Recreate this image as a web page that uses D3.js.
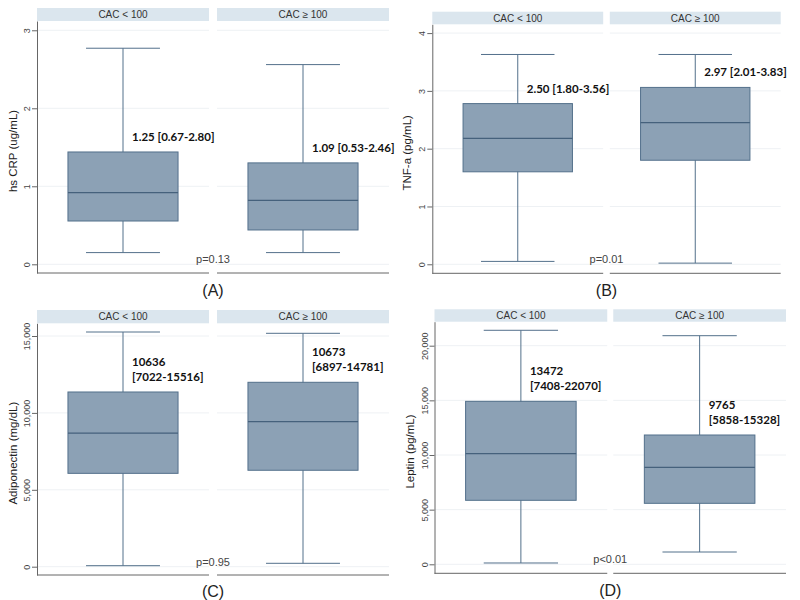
<!DOCTYPE html>
<html>
<head>
<meta charset="utf-8">
<script src="https://cdn.jsdelivr.net/npm/d3@7"></script>
<style>
  html, body { margin: 0; padding: 0; background: #ffffff; }
  svg { display: block; }
</style>
</head>
<body>
<svg id="chart" width="800" height="600"></svg>
<script>
// ---------------- DATA ----------------
const panelLabels = ["(A)", "(B)", "(C)", "(D)"];
const groups = ["CAC < 100", "CAC \u2265 100"];
const yTitles = ["hs CRP (ug/mL)", "TNF-a (pg/mL)", "Adiponectin (mg/dL)", "Leptin (pg/mL)"];
const pValues = ["p=0.13", "p=0.01", "p=0.95", "p<0.01"];

const ticksA = [0, 1, 2, 3];
const ticksB = [0, 1, 2, 3, 4];
const ticksC = [0, 5000, 10000, 15000];
const ticksD = [0, 5000, 10000, 15000, 20000];

// box statistics per group: [CAC<100, CAC>=100]
const crpLow = [0.15, 0.15], crpQ1 = [0.555, 0.44], crpMed = [0.92, 0.82], crpQ3 = [1.44, 1.30], crpHigh = [2.77, 2.56];
const tnfLow = [0.05, 0.02], tnfQ1 = [1.60, 1.80], tnfMed = [2.18, 2.45], tnfQ3 = [2.78, 3.06], tnfHigh = [3.63, 3.63];
const adiLow = [65, 220], adiQ1 = [6070, 6270], adiMed = [8690, 9430], adiQ3 = [11360, 11990], adiHigh = [15260, 15175];
const lepLow = [120, 1125], lepQ1 = [5855, 5580], lepMed = [10120, 8875], lepQ3 = [14910, 11830], lepHigh = [21410, 20915];

const annA = [["1.25 [0.67-2.80]"], ["1.09 [0.53-2.46]"]];
const annB = [["2.50 [1.80-3.56]"], ["2.97 [2.01-3.83]"]];
const annC = [["10636", "[7022-15516]"], ["10673", "[6897-14781]"]];
const annD = [["13472", "[7408-22070]"], ["9765", "[5858-15328]"]];

// ---------------- LAYOUT (code only) ----------------
const panels = [
  { ticks: ticksA, low: crpLow, q1: crpQ1, med: crpMed, q3: crpQ3, high: crpHigh, ann: annA,
    x0: 37, x1: 389, gap: 8, stripTop: 8, top: 21, bottom: 273, domain: [-0.1115, 3.119], labelY: 296, titleX: 17 },
  { ticks: ticksB, low: tnfLow, q1: tnfQ1, med: tnfMed, q3: tnfQ3, high: tnfHigh, ann: annB,
    x0: 432.3, x1: 780.7, gap: 6.6, stripTop: 11.7, top: 24.3, bottom: 273.3, domain: [-0.156, 4.152], labelY: 296, titleX: 411 },
  { ticks: ticksC, low: adiLow, q1: adiQ1, med: adiMed, q3: adiQ3, high: adiHigh, ann: annC,
    x0: 37, x1: 389, gap: 8, stripTop: 310, top: 323.3, bottom: 575, domain: [-540, 15826], labelY: 597, titleX: 17 },
  { ticks: ticksD, low: lepLow, q1: lepQ1, med: lepMed, q3: lepQ3, high: lepHigh, ann: annD,
    x0: 434.5, x1: 786, gap: 6, stripTop: 309.3, top: 321.7, bottom: 573.3, domain: [-823, 22196], labelY: 596, titleX: 414 }
];

const BOX_FILL = "#8ca1b5";
const BOX_STROKE = "#53708b";
const STRIP_FILL = "#dbe6ee";
const AXIS_COLOR = "#666";
const GRID_COLOR = "#eef1f4";

const svg = d3.select("#chart");

panels.forEach((p, i) => {
  const g = svg.append("g");
  const W = p.x1 - p.x0;
  const step = (W + p.gap) / 2;
  const x = d3.scaleBand().domain(groups).range([p.x0, p.x1])
    .paddingInner(p.gap / step).paddingOuter(0);
  const y = d3.scaleLinear().domain(p.domain).range([p.bottom, p.top]);
  const bw = x.bandwidth();

  // strips
  groups.forEach(grp => {
    g.append("rect")
      .attr("x", x(grp)).attr("y", p.stripTop)
      .attr("width", bw).attr("height", p.top - p.stripTop)
      .attr("fill", STRIP_FILL);
    g.append("text")
      .attr("x", x(grp) + bw / 2).attr("y", (p.stripTop + p.top) / 2)
      .attr("dy", "0.35em").attr("text-anchor", "middle")
      .attr("font-family", "Liberation Sans, Arial, sans-serif")
      .attr("font-size", 10).attr("fill", "#333")
      .text(grp);
    // grid lines
    g.selectAll(null).data(p.ticks).enter().append("line")
      .attr("x1", x(grp)).attr("x2", x(grp) + bw)
      .attr("y1", d => y(d)).attr("y2", d => y(d))
      .attr("stroke", GRID_COLOR).attr("stroke-width", 1);
    // bottom axis line
    g.append("line")
      .attr("x1", x(grp)).attr("x2", x(grp) + bw)
      .attr("y1", p.bottom).attr("y2", p.bottom)
      .attr("stroke", AXIS_COLOR).attr("stroke-width", 1);
  });

  // y axis
  const yAxis = d3.axisLeft(y).tickValues(p.ticks).tickSize(5).tickSizeOuter(0)
    .tickFormat(d3.format(","));
  const ag = g.append("g").attr("transform", `translate(${p.x0},0)`).call(yAxis);
  ag.select(".domain").attr("stroke", AXIS_COLOR);
  ag.selectAll(".tick line").attr("stroke", AXIS_COLOR);
  ag.selectAll(".tick text")
    .attr("x", 0).attr("y", 0).attr("dy", 0)
    .attr("transform", "translate(-7,0) rotate(-90)")
    .attr("text-anchor", "middle")
    .attr("font-family", "Liberation Sans, Arial, sans-serif")
    .attr("font-size", 9).attr("fill", "#444");

  // y title
  g.append("text")
    .attr("transform", `translate(${p.titleX},${(p.top + p.bottom) / 2 + 4}) rotate(-90)`)
    .attr("text-anchor", "middle")
    .attr("font-family", "Liberation Sans, Arial, sans-serif")
    .attr("font-size", 11.5).attr("fill", "#222")
    .text(yTitles[i]);

  // boxes
  groups.forEach((grp, j) => {
    const cx = x(grp) + bw / 2;
    const boxW = bw * 0.64;
    const capW = bw * 0.43;
    // whiskers
    g.append("line").attr("x1", cx).attr("x2", cx)
      .attr("y1", y(p.low[j])).attr("y2", y(p.high[j]))
      .attr("stroke", BOX_STROKE).attr("stroke-width", 1);
    [p.low[j], p.high[j]].forEach(v => {
      g.append("line").attr("x1", cx - capW / 2).attr("x2", cx + capW / 2)
        .attr("y1", y(v)).attr("y2", y(v))
        .attr("stroke", BOX_STROKE).attr("stroke-width", 1);
    });
    g.append("rect")
      .attr("x", cx - boxW / 2).attr("y", y(p.q3[j]))
      .attr("width", boxW).attr("height", y(p.q1[j]) - y(p.q3[j]))
      .attr("fill", BOX_FILL).attr("stroke", BOX_STROKE).attr("stroke-width", 1);
    g.append("line").attr("x1", cx - boxW / 2).attr("x2", cx + boxW / 2)
      .attr("y1", y(p.med[j])).attr("y2", y(p.med[j]))
      .attr("stroke", "#45617c").attr("stroke-width", 1.2);

    // annotation
    const lines = p.ann[j];
    const baseY = y(p.q3[j]) - 11;
    lines.forEach((t, k) => {
      g.append("text")
        .attr("x", cx + 9)
        .attr("y", baseY - (lines.length - 1 - k) * 15)
        .attr("font-family", "Lato, Calibri, sans-serif")
        .attr("font-weight", "bold")
        .attr("font-size", 11.5).attr("fill", "#111")
        .text(t);
    });
  });

  // p-value and panel label centered on gap between the two subpanels
  const gapCenter = x(groups[0]) + bw + p.gap / 2;
  g.append("text")
    .attr("x", gapCenter).attr("y", y(0) - 1)
    .attr("text-anchor", "middle")
    .attr("font-family", "Liberation Sans, Arial, sans-serif")
    .attr("font-size", 11).attr("fill", "#444")
    .text(pValues[i]);
  g.append("text")
    .attr("x", gapCenter).attr("y", p.labelY)
    .attr("text-anchor", "middle")
    .attr("font-family", "Liberation Sans, Arial, sans-serif")
    .attr("font-size", 16).attr("fill", "#222")
    .text(panelLabels[i]);
});
</script>
</body>
</html>
